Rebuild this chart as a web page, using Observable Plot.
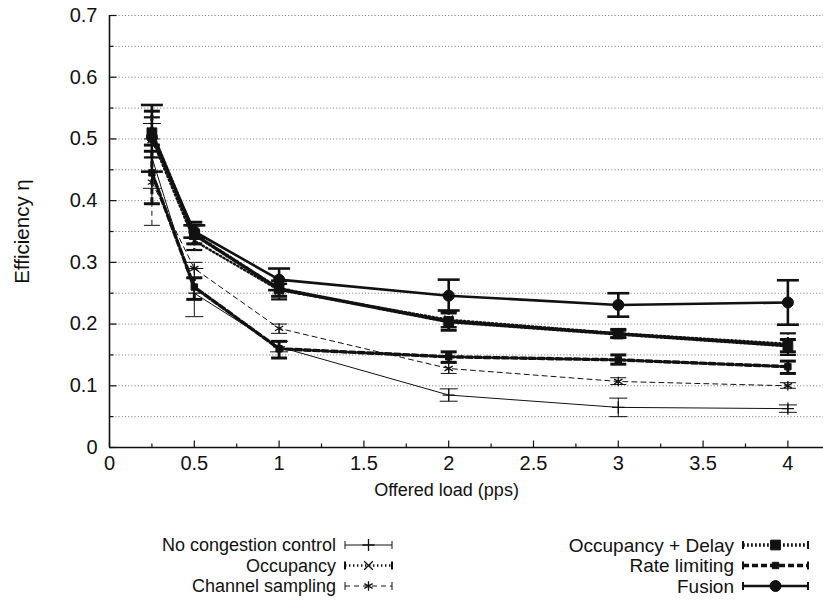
<!DOCTYPE html>
<html>
<head>
<meta charset="utf-8">
<script src="https://cdn.jsdelivr.net/npm/d3@7"></script>
<script src="https://cdn.jsdelivr.net/npm/@observablehq/plot@0.6"></script>
<style>
  html, body { margin: 0; padding: 0; background: #fff; }
  body { width: 823px; height: 601px; overflow: hidden; font-family: "Liberation Sans", Arial, sans-serif; }
  #chart svg { display: block; }
</style>
</head>
<body>
<div id="chart"></div>
<div id="legend"></div>
<script>
// ---------- data ----------
const loads = [0.25, 0.5, 1, 2, 3, 4];
const seriesNames = ["No congestion control", "Occupancy", "Channel sampling", "Occupancy + Delay", "Rate limiting", "Fusion"];

const noCCMean = [0.470, 0.250, 0.163, 0.085, 0.065, 0.063];
const noCCLo   = [0.420, 0.212, 0.155, 0.075, 0.050, 0.057];
const noCCHi   = [0.525, 0.290, 0.172, 0.095, 0.080, 0.069];

const occMean = [0.500, 0.335, 0.255, 0.207, 0.185, 0.168];
const occLo   = [0.470, 0.320, 0.240, 0.195, 0.178, 0.150];
const occHi   = [0.535, 0.360, 0.265, 0.220, 0.192, 0.185];

const chanMean = [0.430, 0.290, 0.193, 0.128, 0.107, 0.100];
const chanLo   = [0.360, 0.275, 0.185, 0.120, 0.102, 0.096];
const chanHi   = [0.500, 0.300, 0.200, 0.137, 0.113, 0.105];

const occDelayMean = [0.510, 0.345, 0.257, 0.204, 0.184, 0.165];
const occDelayLo   = [0.490, 0.330, 0.245, 0.190, 0.178, 0.155];
const occDelayHi   = [0.545, 0.365, 0.270, 0.218, 0.190, 0.175];

const rateMean = [0.445, 0.260, 0.160, 0.147, 0.142, 0.131];
const rateLo   = [0.395, 0.240, 0.145, 0.138, 0.135, 0.120];
const rateHi   = [0.480, 0.275, 0.172, 0.155, 0.150, 0.140];

const fusionMean = [0.503, 0.350, 0.272, 0.246, 0.231, 0.235];
const fusionLo   = [0.447, 0.340, 0.255, 0.222, 0.212, 0.199];
const fusionHi   = [0.555, 0.360, 0.290, 0.272, 0.250, 0.271];

const xMajorTicks = [0, 0.5, 1, 1.5, 2, 2.5, 3, 3.5, 4];
const xMinorTicks = [0.25, 0.75, 1.25, 1.75, 2.25, 2.75, 3.25, 3.75];
const yMajorTicks = [0, 0.1, 0.2, 0.3, 0.4, 0.5, 0.6, 0.7];
const yMinorTicks = [0.05, 0.15, 0.25, 0.35, 0.45, 0.55, 0.65];
const yGridLines  = [0.05, 0.1, 0.15, 0.2, 0.25, 0.3, 0.35, 0.4, 0.45, 0.5, 0.55, 0.6, 0.65, 0.7];

// ---------- build table ----------
const seriesData = [
  [noCCMean, noCCLo, noCCHi],
  [occMean, occLo, occHi],
  [chanMean, chanLo, chanHi],
  [occDelayMean, occDelayLo, occDelayHi],
  [rateMean, rateLo, rateHi],
  [fusionMean, fusionLo, fusionHi]
];
const rows = [];
seriesNames.forEach((name, s) => {
  loads.forEach((x, i) => {
    rows.push({series: name, x, y: seriesData[s][0][i], lo: seriesData[s][1][i], hi: seriesData[s][2][i]});
  });
});

// ---------- styles ----------
const ink = "#111";
const styles = {
  "No congestion control": {w: 1,   dash: null,      ew: 1,   cap: 9,  symbol: "plus",     r: 4,   fill: "none"},
  "Occupancy":             {w: 2.4, dash: "1.4,2.6", ew: 2.2, cap: 8,  symbol: "times",    r: 4,   fill: "none"},
  "Channel sampling":      {w: 1,   dash: "5,4",     ew: 1,   cap: 8,  symbol: "asterisk", r: 4.5, fill: "none"},
  "Occupancy + Delay":     {w: 3.6, dash: "1.8,2.2", ew: 3,   cap: 8,  symbol: "square",   r: 5.5, fill: ink},
  "Rate limiting":         {w: 3.4, dash: "6,3",     ew: 3,   cap: 8,  symbol: "square",   r: 3.6, fill: ink},
  "Fusion":                {w: 2.6, dash: null,      ew: 2.6, cap: 11, symbol: "circle",   r: 5.5, fill: ink}
};

// custom symbols (pixel-sized caps and ticks)
const capSymbol = {draw(c, size) { const r = Math.sqrt(size / Math.PI); c.moveTo(-r, 0); c.lineTo(r, 0); }};
const tickUp    = {draw(c, size) { const r = Math.sqrt(size / Math.PI); c.moveTo(0, 0); c.lineTo(0, -r); }};
const tickRight = {draw(c, size) { const r = Math.sqrt(size / Math.PI); c.moveTo(0, 0); c.lineTo(r, 0); }};

const seriesMarks = [];
seriesNames.forEach(name => {
  const st = styles[name];
  const d = rows.filter(r => r.series === name);
  seriesMarks.push(
    Plot.line(d, {x: "x", y: "y", stroke: ink, strokeWidth: st.w, strokeDasharray: st.dash}),
    Plot.ruleX(d, {x: "x", y1: "lo", y2: "hi", stroke: ink, strokeWidth: st.ew, strokeDasharray: st.dash}),
    Plot.dot(d, {x: "x", y: "lo", symbol: capSymbol, r: st.cap, stroke: ink, strokeWidth: st.ew, fill: "none"}),
    Plot.dot(d, {x: "x", y: "hi", symbol: capSymbol, r: st.cap, stroke: ink, strokeWidth: st.ew, fill: "none"}),
    Plot.dot(d, {x: "x", y: "y", symbol: st.symbol, r: st.r, stroke: ink, strokeWidth: st.fill === "none" ? 1.3 : 1, fill: st.fill})
  );
});

const FONT = "Liberation Sans, Arial, sans-serif";

const chart = Plot.plot({
  width: 823,
  height: 505,
  marginLeft: 109,
  marginRight: 0,
  marginTop: 15,
  marginBottom: 58,
  style: {fontFamily: FONT, fontSize: "17px", color: "#111", background: "#fff"},
  x: {domain: [0, 4.21]},
  y: {domain: [0, 0.7]},
  marks: [
    Plot.gridY(yGridLines, {stroke: "#444", strokeOpacity: 0.75, strokeWidth: 1, strokeDasharray: "1,2.2"}),
    Plot.axisX(xMajorTicks, {tickSize: 0, tickPadding: 8, tickFormat: d => String(d), label: null, fontSize: 20}),
    Plot.axisY(yMajorTicks, {tickSize: 0, tickPadding: 12, tickFormat: d => String(d), label: null, fontSize: 20}),
    Plot.dot(xMajorTicks, {x: d => d, frameAnchor: "bottom", symbol: tickUp, r: 7, stroke: ink, strokeWidth: 1.2}),
    Plot.dot(xMinorTicks, {x: d => d, frameAnchor: "bottom", symbol: tickUp, r: 4, stroke: ink, strokeWidth: 1.2}),
    Plot.dot(yMajorTicks, {y: d => d, frameAnchor: "left", symbol: tickRight, r: 7, stroke: ink, strokeWidth: 1.2}),
    Plot.dot(yMinorTicks, {y: d => d, frameAnchor: "left", symbol: tickRight, r: 4, stroke: ink, strokeWidth: 1.2}),
    ...seriesMarks,
    Plot.ruleX([0], {stroke: ink, strokeWidth: 1.6}),
    Plot.ruleY([0], {stroke: ink, strokeWidth: 1.6}),
    Plot.text(["Offered load (pps)"], {frameAnchor: "bottom", dy: 48, dx: -20, fontSize: 18, fill: ink}),
    Plot.text(["Efficiency η"], {frameAnchor: "left", textAnchor: "middle", dx: -87, rotate: -90, fontSize: 20.5, fill: ink})
  ]
});
document.getElementById("chart").appendChild(chart);

// ---------- legend (below the SVG) ----------
const legendCols = [
  {names: seriesNames.slice(0, 3), textRight: 336, x0: 345, x1: 392, fs: 18},
  {names: seriesNames.slice(3),    textRight: 734, x0: 743, x1: 808, fs: 19}
];
const rowY = [40, 60.5, 81];
const NS = "http://www.w3.org/2000/svg";
const lsvg = document.createElementNS(NS, "svg");
lsvg.setAttribute("width", 823);
lsvg.setAttribute("height", 96);
lsvg.style.display = "block";
function el(tag, attrs, parent) {
  const e = document.createElementNS(NS, tag);
  for (const k in attrs) if (attrs[k] != null) e.setAttribute(k, attrs[k]);
  parent.appendChild(e);
  return e;
}
const symGen = {plus: d3.symbolPlus, times: d3.symbolTimes, asterisk: d3.symbolAsterisk, square: d3.symbolSquare, circle: d3.symbolCircle};
legendCols.forEach(col => {
  col.names.forEach((name, i) => {
    const st = styles[name];
    const y = rowY[i];
    const t = el("text", {x: col.textRight, y: y, "text-anchor": "end", "dominant-baseline": "central",
      "font-family": FONT, "font-size": col.fs, fill: ink}, lsvg);
    t.textContent = name;
    el("line", {x1: col.x0, x2: col.x1, y1: y, y2: y, stroke: ink, "stroke-width": st.w, "stroke-dasharray": st.dash}, lsvg);
    el("line", {x1: col.x0, x2: col.x0, y1: y - 4, y2: y + 4, stroke: ink, "stroke-width": Math.min(st.ew, 2)}, lsvg);
    el("line", {x1: col.x1, x2: col.x1, y1: y - 4, y2: y + 4, stroke: ink, "stroke-width": Math.min(st.ew, 2)}, lsvg);
    const cx = (col.x0 + col.x1) / 2;
    el("path", {d: d3.symbol(symGen[st.symbol], st.r * st.r * Math.PI)(), transform: `translate(${cx},${y})`,
      fill: st.fill, stroke: ink, "stroke-width": st.fill === "none" ? 1.3 : 1}, lsvg);
  });
});
document.getElementById("legend").appendChild(lsvg);
</script>
</body>
</html>
